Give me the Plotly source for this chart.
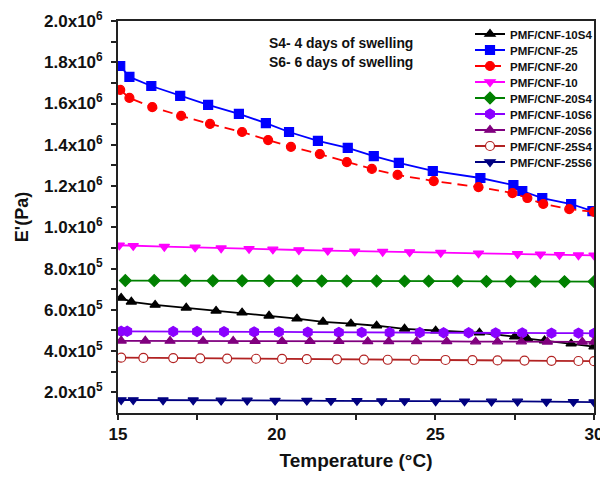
import plotly.graph_objects as go

# ---------------- data ----------------
t_10s4 = [15.10, 15.42, 16.17, 17.15, 18.09, 18.91, 19.76, 20.64, 21.46, 22.34,
          23.15, 24.03, 25.01, 26.39, 27.50, 27.90, 28.44, 29.28, 30.0]
e_10s4 = [6.58e5, 6.39e5, 6.24e5, 6.10e5, 5.95e5, 5.86e5, 5.71e5, 5.57e5, 5.42e5, 5.33e5,
          5.23e5, 5.08e5, 4.99e5, 4.89e5, 4.70e5, 4.60e5, 4.51e5, 4.36e5, 4.22e5]

t_25 = [15.07, 15.36, 16.05, 16.96, 17.84, 18.81, 19.66, 20.39, 21.30, 22.24,
        23.06, 23.85, 24.92, 26.42, 27.46, 27.74, 28.37, 29.28, 29.95]
e_25 = [1.782e6, 1.729e6, 1.685e6, 1.637e6, 1.593e6, 1.550e6, 1.505e6, 1.462e6, 1.419e6, 1.385e6,
        1.345e6, 1.312e6, 1.273e6, 1.239e6, 1.205e6, 1.176e6, 1.142e6, 1.113e6, 1.078e6]

t_20 = [15.07, 15.36, 16.08, 16.99, 17.90, 18.91, 19.73, 20.45, 21.36, 22.21,
        23.00, 23.81, 24.95, 26.36, 27.43, 27.90, 28.40, 29.22, 30.0]
e_20 = [1.666e6, 1.627e6, 1.583e6, 1.540e6, 1.501e6, 1.462e6, 1.423e6, 1.390e6, 1.355e6, 1.316e6,
        1.283e6, 1.254e6, 1.224e6, 1.195e6, 1.166e6, 1.142e6, 1.113e6, 1.088e6, 1.075e6]

t_10 = [15.04, 15.48, 16.46, 17.43, 18.25, 19.13, 19.88, 20.70, 21.61, 22.46,
        23.34, 24.19, 25.17, 26.36, 27.59, 28.31, 28.91, 29.51, 30.0]
e_10 = [9.13e5, 9.10e5, 9.06e5, 9.03e5, 8.99e5, 8.96e5, 8.93e5, 8.90e5, 8.87e5, 8.84e5,
        8.82e5, 8.80e5, 8.77e5, 8.74e5, 8.71e5, 8.69e5, 8.67e5, 8.65e5, 8.64e5]

t_20s4 = [15.23, 16.14, 17.12, 17.99, 18.91, 19.76, 20.64, 21.42, 22.21, 23.15,
          24.03, 24.79, 25.70, 26.61, 27.37, 28.15, 29.07, 30.0]
e_20s4 = [7.42e5, 7.42e5, 7.42e5, 7.41e5, 7.41e5, 7.41e5, 7.41e5, 7.40e5, 7.40e5, 7.40e5,
          7.39e5, 7.39e5, 7.39e5, 7.38e5, 7.38e5, 7.38e5, 7.37e5, 7.37e5]

t_10s6 = [15.10, 15.29, 16.74, 17.49, 18.34, 19.29, 20.07, 20.98, 21.96, 22.68,
          23.56, 24.51, 25.26, 26.05, 26.90, 27.74, 28.66, 29.51, 30.0]
e_10s6 = [4.96e5, 4.96e5, 4.95e5, 4.95e5, 4.94e5, 4.93e5, 4.93e5, 4.92e5, 4.91e5, 4.91e5,
          4.90e5, 4.90e5, 4.89e5, 4.89e5, 4.88e5, 4.88e5, 4.87e5, 4.87e5, 4.86e5]

t_20s6 = [15.10, 15.86, 16.64, 17.68, 18.63, 19.32, 20.17, 21.05, 21.96, 22.87,
          23.53, 24.41, 25.36, 26.27, 26.96, 27.71, 28.53, 29.63, 30.0]
e_20s6 = [4.50e5, 4.50e5, 4.49e5, 4.49e5, 4.49e5, 4.48e5, 4.48e5, 4.48e5, 4.48e5, 4.47e5,
          4.47e5, 4.47e5, 4.47e5, 4.46e5, 4.46e5, 4.46e5, 4.45e5, 4.45e5, 4.45e5]

t_25s4 = [15.10, 15.80, 16.74, 17.59, 18.44, 19.35, 20.17, 20.95, 21.90, 22.75,
          23.50, 24.35, 25.32, 26.17, 26.96, 27.81, 28.66, 29.51, 30.0]
e_25s4 = [3.68e5, 3.67e5, 3.66e5, 3.65e5, 3.64e5, 3.63e5, 3.62e5, 3.61e5, 3.60e5, 3.59e5,
          3.58e5, 3.58e5, 3.57e5, 3.56e5, 3.55e5, 3.54e5, 3.53e5, 3.52e5, 3.51e5]

t_25s6 = [15.10, 15.48, 16.42, 17.37, 18.25, 19.07, 19.95, 20.95, 21.71, 22.53,
          23.31, 24.03, 25.01, 25.92, 26.77, 27.59, 28.50, 29.35, 30.0]
e_25s6 = [1.63e5, 1.63e5, 1.62e5, 1.62e5, 1.61e5, 1.61e5, 1.60e5, 1.60e5, 1.59e5, 1.59e5,
          1.58e5, 1.58e5, 1.57e5, 1.57e5, 1.56e5, 1.56e5, 1.55e5, 1.54e5, 1.53e5]

y_tickvals = [2e5, 4e5, 6e5, 8e5, 1e6, 1.2e6, 1.4e6, 1.6e6, 1.8e6, 2e6]
y_ticktext = ["2.0x10<sup>5</sup>", "4.0x10<sup>5</sup>", "6.0x10<sup>5</sup>", "8.0x10<sup>5</sup>",
              "1.0x10<sup>6</sup>", "1.2x10<sup>6</sup>", "1.4x10<sup>6</sup>", "1.6x10<sup>6</sup>",
              "1.8x10<sup>6</sup>", "2.0x10<sup>6</sup>"]
x_tickvals = [15, 20, 25, 30]
notes = ["S4- 4 days of swelling", "S6- 6 days of swelling"]

# ---------------- styling ----------------
series = [
    ("PMF/CNF-10S4", t_10s4, e_10s4, "#000000", "triangle-up", "solid", "#000000"),
    ("PMF/CNF-25", t_25, e_25, "#0000ff", "square", "solid", "#0000ff"),
    ("PMF/CNF-20", t_20, e_20, "#ff0000", "circle", "10px,6px", "#ff0000"),
    ("PMF/CNF-10", t_10, e_10, "#ff00ff", "triangle-down", "solid", "#ff00ff"),
    ("PMF/CNF-20S4", t_20s4, e_20s4, "#008000", "diamond", "solid", "#008000"),
    ("PMF/CNF-10S6", t_10s6, e_10s6, "#8a00ff", "hexagon", "solid", "#8a00ff"),
    ("PMF/CNF-20S6", t_20s6, e_20s6, "#80007f", "triangle-up", "solid", "#80007f"),
    ("PMF/CNF-25S4", t_25s4, e_25s4, "#b22222", "circle", "solid", "#ffffff"),
    ("PMF/CNF-25S6", t_25s6, e_25s6, "#000080", "triangle-down", "solid", "#000080"),
]

FONT = "Arial, Liberation Sans, Helvetica, sans-serif"
# the page body adds an 8px offset, so the figure is sized to fit the 608x479 window
W, H = 600, 471
ML, MR, MT, MB = 110, 14, 13, 66
PLOT_L, PLOT_T = 118, 21          # plot area in window pixels
plot_w = W - ML - MR
plot_h = H - MT - MB
PLOT_B = PLOT_T + plot_h


def px_x(px):
    return (px - PLOT_L) / plot_w


def px_y(py):
    return (PLOT_B - py) / plot_h


fig = go.Figure()
legend_layouts = {}
for i, (name, t, e, col, sym, dash, fill) in enumerate(series):
    lname = "legend" if i == 0 else f"legend{i+1}"
    fig.add_trace(go.Scatter(
        x=t, y=e, name=name, mode="lines+markers",
        line=dict(color=col, width=1.8, dash=dash),
        marker=dict(symbol=sym, size=9 if sym != "hexagon" else 10, color=fill,
                    line=dict(color=col, width=1.2)),
        legend=lname,
    ))
    legend_layouts[lname] = dict(
        x=px_x(470), xanchor="left",
        y=px_y(34 + 16 * i), yanchor="middle",
        bgcolor="rgba(0,0,0,0)", borderwidth=0,
        font=dict(family=FONT, size=11.5, color="#111", weight="bold"),
    )

fig.update_layout(
    width=W, height=H,
    margin=dict(l=ML, r=MR, t=MT, b=MB, autoexpand=False),
    paper_bgcolor="white", plot_bgcolor="white",
    font=dict(family=FONT, color="#111"),
    showlegend=True,
    **legend_layouts,
)

fig.update_xaxes(
    range=[15, 30], tickvals=x_tickvals, ticks="outside", ticklen=5, tickwidth=1.5,
    tickcolor="#222", showline=True, linewidth=1.8, linecolor="#222", mirror=True,
    showgrid=False, zeroline=False, automargin=False,
    tickfont=dict(family=FONT, size=17, color="#111", weight="bold"),
    minor=dict(tickvals=[17.5, 22.5, 27.5], ticks="outside", ticklen=5, tickwidth=1.5, tickcolor="#222"),
    title=dict(text="Temperature (°C)", font=dict(family=FONT, size=19, color="#111", weight="bold"),
               standoff=10),
)
fig.update_yaxes(
    range=[1e5, 2e6], tickvals=y_tickvals, ticktext=y_ticktext, ticks="outside", ticklen=5,
    tickwidth=1.5, tickcolor="#222", showline=True, linewidth=1.8, linecolor="#222", mirror=True,
    showgrid=False, zeroline=False, automargin=False, ticklabelstandoff=5,
    tickfont=dict(family=FONT, size=17, color="#111", weight="bold"),
    minor=dict(tickvals=[3e5, 5e5, 7e5, 9e5, 1.1e6, 1.3e6, 1.5e6, 1.7e6, 1.9e6],
               ticks="outside", ticklen=5, tickwidth=1.5, tickcolor="#222"),
    title=dict(text="E'(Pa)", font=dict(family=FONT, size=18, color="#111", weight="bold"),
               standoff=11),
)

for j, note in enumerate(notes):
    fig.add_annotation(
        text=note, xref="paper", yref="paper",
        x=px_x(267), y=px_y(43 + 19 * j),
        xanchor="left", yanchor="middle", align="left", showarrow=False,
        font=dict(family=FONT, size=13.9, color="#111", weight="bold"),
    )

fig.write_html("out.html")
